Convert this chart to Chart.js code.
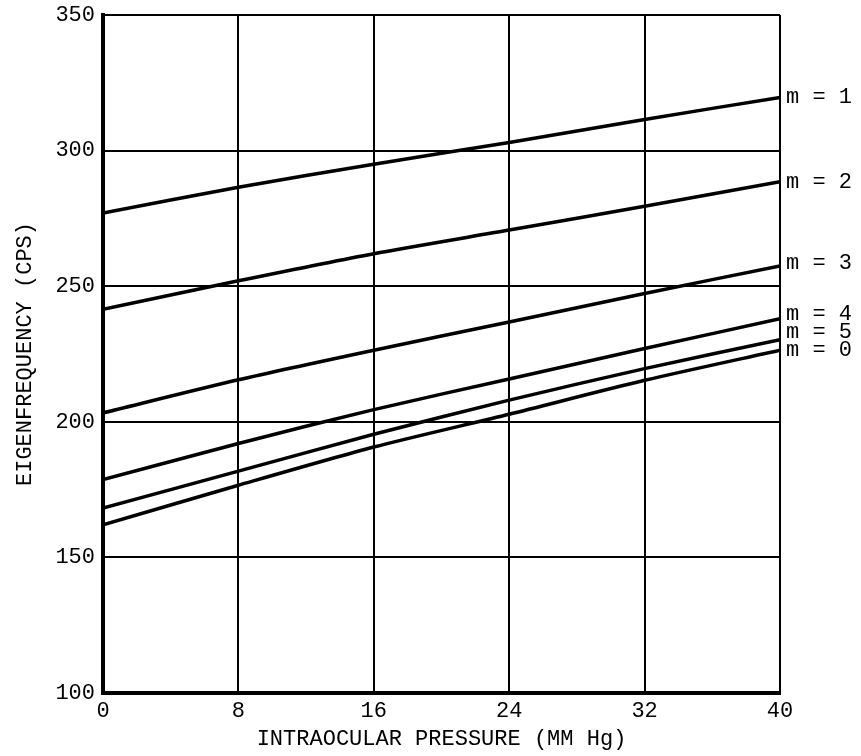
<!DOCTYPE html>
<html>
<head>
<meta charset="utf-8">
<script src="https://cdn.jsdelivr.net/npm/chart.js@4.4.0/dist/chart.umd.min.js"></script>
<style>
  body { margin: 0; background: #fff; }
  canvas { display: block; }
</style>
</head>
<body>
<canvas id="myChart" width="861" height="756"></canvas>
<script>
// intraocular pressure (mm Hg)
var pressure = [0, 8, 16, 24, 32, 40];
var modeNames = ['m = 1', 'm = 2', 'm = 3', 'm = 4', 'm = 5', 'm = 0'];
// eigenfrequency (cps) per mode
var m1 = [277, 286.5, 295, 303, 311.5, 319.6];
var m2 = [241.5, 252, 262, 270.7, 279.5, 288.5];
var m3 = [203.3, 215.5, 226.4, 236.8, 247.3, 257.5];
var m4 = [178.7, 192, 204.5, 215.8, 227, 238];
var m5 = [168.2, 181.8, 195.4, 208, 219.6, 230.3];
var m0 = [162, 176.6, 190.7, 202.8, 215.3, 226.4];
var yTicks = [100, 150, 200, 250, 300, 350];
var xTicks = [0, 8, 16, 24, 32, 40];

// small vertical nudges so the crowded labels don't overlap
var labelNudge = [0, 0, -3, -5, -7, 0];

var ctx = document.getElementById('myChart');

var series = [m1, m2, m3, m4, m5, m0];
var datasets = series.map(function(vals, i) {
  return {
    label: modeNames[i],
    data: vals.map(function(v, j) { return { x: pressure[j], y: v }; }),
    borderColor: '#000',
    borderWidth: 3.5,
    pointRadius: 0,
    tension: 0.25,
    fill: false
  };
});

var endLabels = {
  id: 'endLabels',
  afterDatasetsDraw: function(chart) {
    var c = chart.ctx;
    c.save();
    c.fillStyle = '#000';
    c.font = '22px "Liberation Mono"';
    c.textBaseline = 'middle';
    c.textAlign = 'left';
    chart.data.datasets.forEach(function(ds, i) {
      var pts = chart.getDatasetMeta(i).data;
      var last = pts[pts.length - 1];
      c.fillText(ds.label, chart.chartArea.right + 6, last.y + labelNudge[i]);
    });
    c.restore();
  }
};

var tickFont = { family: '"Liberation Mono"', size: 22, lineHeight: 1 };
var titleFont = { family: '"Liberation Mono"', size: 22 };

var myChart = new Chart(ctx, {
  type: 'line',
  data: { datasets: datasets },
  plugins: [endLabels],
  options: {
    responsive: false,
    animation: false,
    layout: { padding: { top: 15, right: 81, left: 0, bottom: 0 } },
    plugins: { legend: { display: false }, tooltip: { enabled: false } },
    scales: {
      x: {
        type: 'linear',
        min: 0, max: 40,
        afterBuildTicks: function(scale) {
          scale.ticks = xTicks.map(function(v) { return { value: v }; });
        },
        afterFit: function(scale) {
          scale.height = 63;
          scale.paddingLeft = 0;
          scale.paddingRight = 0;
        },
        grid: { color: '#000', lineWidth: 2, drawTicks: false },
        border: { color: '#000', width: 4 },
        ticks: { color: '#000', padding: 7, maxRotation: 0, font: tickFont },
        title: {
          display: true,
          text: 'INTRAOCULAR PRESSURE (MM Hg)',
          color: '#000',
          font: titleFont,
          padding: { top: 0, bottom: 4 }
        }
      },
      y: {
        type: 'linear',
        min: 100, max: 350,
        afterBuildTicks: function(scale) {
          scale.ticks = yTicks.map(function(v) { return { value: v }; });
        },
        afterFit: function(scale) {
          scale.width = 103;
          scale.paddingTop = 0;
          scale.paddingBottom = 0;
        },
        grid: { color: '#000', lineWidth: 2, drawTicks: false },
        border: { color: '#000', width: 4 },
        ticks: { color: '#000', padding: 8, font: tickFont },
        title: {
          display: true,
          text: 'EIGENFREQUENCY (CPS)',
          color: '#000',
          font: titleFont,
          padding: { top: 12 }
        }
      }
    }
  }
});
</script>
</body>
</html>
